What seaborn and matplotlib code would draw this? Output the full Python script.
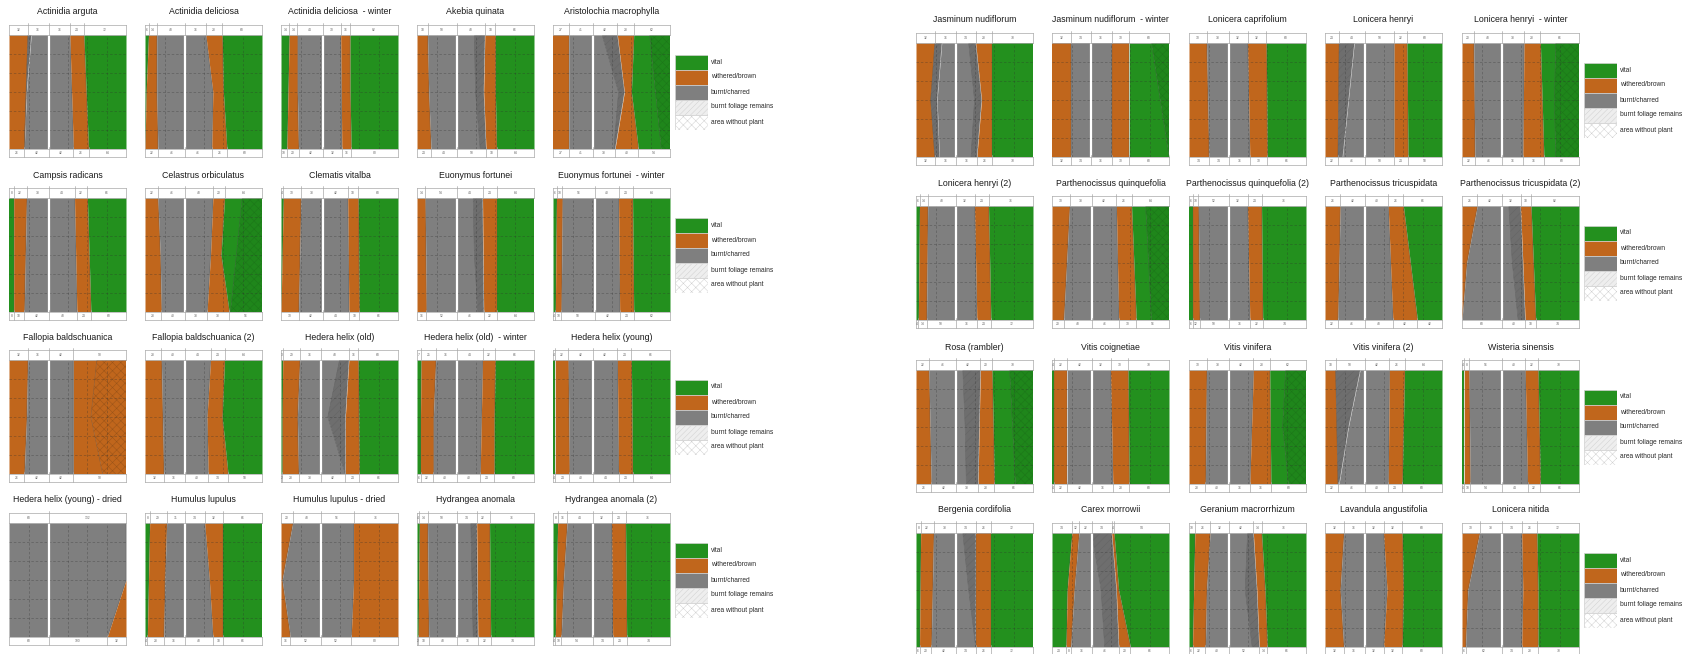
import numpy as np
import pandas as pd
import matplotlib
matplotlib.use("Agg")
import matplotlib.pyplot as plt
import seaborn as sns
from matplotlib.patches import Rectangle

sns.set_theme(style="white")
plt.rcParams["font.family"] = ["Liberation Sans", "DejaVu Sans"]
plt.rcParams["hatch.linewidth"] = 0.35

# ---------------------------------------------------------------- data
# Each panel: zone sequence from left to right (V vital, E dense vital,
# O withered/brown, H withered without plant, G burnt/charred, D heavily
# charred), the x-position (0-200 cm) of every zone boundary at the top,
# middle and bottom of the wall section, and the white separation line.
TITLES = [
    "Actinidia arguta", "Actinidia deliciosa", "Actinidia deliciosa  - winter",
    "Akebia quinata", "Aristolochia macrophylla",
    "Campsis radicans", "Celastrus orbiculatus", "Clematis vitalba",
    "Euonymus fortunei", "Euonymus fortunei  - winter",
    "Fallopia baldschuanica", "Fallopia baldschuanica (2)", "Hedera helix (old)",
    "Hedera helix (old)  - winter", "Hedera helix (young)",
    "Hedera helix (young) - dried", "Humulus lupulus", "Humulus lupulus - dried",
    "Hydrangea anomala", "Hydrangea anomala (2)",
    "Jasminum nudiflorum", "Jasminum nudiflorum  - winter", "Lonicera caprifolium",
    "Lonicera henryi", "Lonicera henryi  - winter",
    "Lonicera henryi (2)", "Parthenocissus quinquefolia",
    "Parthenocissus quinquefolia (2)", "Parthenocissus tricuspidata",
    "Parthenocissus tricuspidata (2)",
    "Rosa (rambler)", "Vitis coignetiae", "Vitis vinifera", "Vitis vinifera (2)",
    "Wisteria sinensis",
    "Bergenia cordifolia", "Carex morrowii", "Geranium macrorrhizum",
    "Lavandula angustifolia", "Lonicera nitida",
]

ZONES = [
    "ODGOV", "VOGOV", "VOGOV", "OGDOV", "OGDOVE",
    "VOGOV", "OGOVE", "VOGOV", "OGDOV", "VOGOV",
    "OGOH", "OGOV", "VOGDOV", "VOGOV", "VOGOV",
    "GO", "VOGOV", "OGO", "VOGDOV", "VOGOV",
    "ODGDOV", "OGOVE", "OGOV", "ODGOV", "OGOVE",
    "VOGOV", "OGOVE", "VOGOV", "OGOV", "OGDOV",
    "OGDOVE", "VOGOV", "OGOVE", "ODGOV", "VOGOV",
    "VOGDOV", "VOGDOV", "VOGDOV", "OGOV", "OGOV",
]

EDGES_TOP = [
    [32, 38, 104, 128], [6, 20, 104, 132], [14, 28, 102, 118], [18, 98, 116, 134],
    [27, 84, 110, 138, 165],
    [8, 30, 112, 134], [22, 116, 136, 166], [4, 34, 114, 132], [14, 96, 112, 136],
    [6, 16, 112, 136],
    [32, 110, 150], [28, 112, 136], [3, 32, 100, 116, 132], [7, 32, 112, 134],
    [4, 26, 110, 134],
    [200], [8, 37, 102, 134], [20, 124], [4, 18, 92, 102, 124], [8, 24, 100, 124],
    [32, 44, 90, 102, 130], [32, 102, 132, 170], [30, 100, 132], [24, 50, 118, 140],
    [20, 106, 134, 160],
    [6, 20, 100, 124], [30, 110, 136, 160], [6, 16, 100, 124], [26, 108, 134],
    [26, 80, 100, 118],
    [22, 80, 110, 130, 160], [4, 26, 100, 130], [30, 110, 138, 165], [18, 60, 110, 136],
    [4, 12, 108, 130],
    [8, 30, 80, 102, 128], [34, 46, 68, 102, 106], [10, 36, 100, 110, 124],
    [32, 100, 132], [30, 102, 128],
]

EDGES_MID = [
    [29, 30, 107, 132], [2, 20, 116, 134], [12, 28, 103, 118], [20, 100, 114, 134],
    [27, 112, 122, 134, 175],
    [8, 28, 114, 137], [26, 112, 130, 156], [2, 32, 115, 133], [15, 98, 113, 136],
    [5, 15, 113, 137],
    [30, 110, 140], [30, 106, 132], [2, 28, 80, 110, 133], [6, 28, 110, 132],
    [4, 27, 111, 135],
    [200], [6, 34, 110, 134], [2, 124], [3, 19, 94, 103, 125], [6, 18, 101, 125],
    [25, 36, 100, 112, 130], [32, 102, 132, 185], [32, 102, 133], [23, 40, 118, 141],
    [21, 105, 137, 158],
    [5, 19, 102, 126], [25, 112, 140, 165], [6, 17, 102, 125], [24, 112, 146],
    [8, 86, 104, 122],
    [24, 84, 108, 132, 165], [4, 26, 102, 131], [29, 107, 139, 160], [20, 40, 109, 134],
    [4, 13, 110, 132],
    [7, 28, 90, 102, 128], [26, 38, 84, 110, 114], [8, 30, 96, 116, 130],
    [26, 106, 134], [10, 104, 130],
]

EDGES_BOT = [
    [26, 26, 110, 136], [0, 22, 114, 140], [10, 30, 104, 120], [24, 108, 118, 136],
    [27, 104, 106, 146, 185],
    [8, 26, 116, 140], [28, 106, 144, 146], [0, 30, 116, 134], [16, 104, 114, 136],
    [4, 14, 114, 138],
    [26, 110, 160], [32, 108, 142], [2, 30, 110, 110, 134], [6, 28, 108, 132],
    [4, 28, 112, 136],
    [168], [4, 32, 116, 134], [16, 120], [2, 20, 96, 104, 126], [4, 14, 102, 126],
    [32, 40, 94, 104, 130], [32, 102, 132, 200], [34, 104, 134], [22, 30, 118, 142],
    [22, 104, 140, 160],
    [4, 18, 104, 128], [20, 114, 144, 170], [6, 18, 104, 126], [22, 116, 158],
    [0, 96, 108, 126],
    [26, 86, 106, 134, 170], [4, 26, 104, 132], [28, 104, 140, 170], [22, 24, 108, 132],
    [4, 14, 112, 134],
    [6, 26, 102, 102, 128], [24, 32, 90, 114, 134], [6, 28, 108, 120, 134],
    [32, 100, 132], [6, 102, 130],
]

DIVIDERS = [
    68, 68, 72, 68, 68, 68, 68, 72, 68, 72,
    68, 68, 68, 68, 68, 68, 68, 68, 68, 68,
    68, 66, 68, 68, 68, 68, 68, 68, 68, 68,
    68, 68, 68, 68, 68, 68, 68, 68, 68, 68,
]

LEGEND_LABELS = ["vital", "withered/brown", "burnt/charred",
                 "burnt foliage remains", "area without plant"]

# ---------------------------------------------------------------- styling
COLORS = {"V": "#23901e", "E": "#1f861b", "O": "#c0661c", "H": "#c0661c",
          "G": "#7f7f7f", "D": "#6e6e6e"}
HATCH = {"E": ("xxxx", "#1c7619"), "H": ("xxxx", "#9a5418"),
         "D": ("////", "#656565")}
CLASS = {"V": "V", "E": "V", "O": "O", "H": "O", "G": "G", "D": "G"}
FRAME = "#a8a8a8"
W, H = 1696, 654
WALL = 200.0
LEVELS = np.array([0.0, 100.0, 200.0])      # bottom, middle, top

LEFT_COLS = [9, 145, 281, 417, 553]
RIGHT_COLS = [916, 1052, 1189, 1325, 1462]
LEFT_ROWS = [35, 198, 360, 523]
RIGHT_ROWS = [43, 206, 370, 533]
PW, PH = 117, 114

fig = plt.figure(figsize=(W / 100, H / 100), dpi=100)


def px_axes(x, y, w, h):
    return fig.add_axes([x / W, 1 - (y + h) / H, w / W, h / H])


def strip(x, y, w, h, cuts):
    ax = px_axes(x, y, w, h)
    ax.set_xlim(0, WALL)
    ax.set_ylim(0, 1)
    ax.set_xticks([])
    ax.set_yticks([])
    for s in ax.spines.values():
        s.set_color(FRAME)
        s.set_linewidth(0.5)
    bounds = [0.0] + cuts + [WALL]
    for c in cuts:
        ax.plot([c, c], [0, 1.25], color=FRAME, lw=0.5, clip_on=False)
    for a, b in zip(bounds[:-1], bounds[1:]):
        ax.text((a + b) / 2, 0.5, f"{round(b - a)}", fontsize=2.4,
                color="#6a6a6a", ha="center", va="center")


def panel(i, x, y):
    ax = px_axes(x, y, PW, PH)
    ax.set_xlim(0, WALL)
    ax.set_ylim(0, WALL)
    ax.set_xticks([])
    ax.set_yticks([])
    for s in ax.spines.values():
        s.set_visible(False)

    zones = ZONES[i]
    edges = [np.array([b, m, t], float) for t, m, b in
             zip(EDGES_TOP[i], EDGES_MID[i], EDGES_BOT[i])]
    left = np.zeros(3)
    for k, z in enumerate(zones):
        right = edges[k] if k < len(edges) else np.full(3, WALL)
        if z in HATCH:
            hatch, ec = HATCH[z]
            ax.fill_betweenx(LEVELS, left, right, facecolor=COLORS[z],
                             edgecolor=ec, hatch=hatch, lw=0)
        else:
            ax.fill_betweenx(LEVELS, left, right, color=COLORS[z], lw=0)
        left = right

    # zone boundaries
    main = [k for k in range(len(edges))
            if CLASS[zones[k]] != CLASS[zones[k + 1]]]
    inner = [edges[k] for k in range(len(edges)) if edges[k].min() < WALL - 0.5]
    if inner:
        df = pd.DataFrame({
            "x": np.concatenate(inner),
            "y": np.tile(LEVELS, len(inner)),
            "b": np.repeat(np.arange(len(inner)), 3),
        })
        sns.lineplot(data=df, x="x", y="y", units="b", estimator=None,
                     orient="y", sort=False, color="#555555", lw=0.35,
                     alpha=0.5, legend=False, ax=ax)
    ax.set_xlabel("")
    ax.set_ylabel("")

    # dashed measuring grid
    for g in np.arange(1, 6) * WALL / 6:
        ax.axhline(g, color="#2e2e2e", lw=0.45, ls=(0, (4, 3)), alpha=0.45)
        ax.axvline(g, color="#2e2e2e", lw=0.45, ls=(0, (4, 3)), alpha=0.45)

    ax.axvline(DIVIDERS[i], color="white", lw=1.6)

    # measurement strips above and below
    def cuts(vals):
        c = [vals[k] for k in main if 0.5 < vals[k] < WALL - 0.5]
        return sorted(set(c + [DIVIDERS[i]]))

    strip(x, y - 10, PW, 10, cuts(EDGES_TOP[i]))
    strip(x, y + PH, PW, 8, cuts(EDGES_BOT[i]))

    fig.text((x + PW / 2) / W, 1 - (y - 23) / H, TITLES[i],
             fontsize=6.3, ha="center", va="center", color="#1a1a1a")


def legend(x, yc):
    h = 75
    ax = px_axes(x, yc - h / 2, 33, h)
    ax.set_xlim(0, 1)
    ax.set_ylim(0, 5)
    ax.axis("off")
    styles = [
        dict(facecolor=COLORS["V"]),
        dict(facecolor=COLORS["O"]),
        dict(facecolor=COLORS["G"]),
        dict(facecolor="#eeeeee", hatch="//////"),
        dict(facecolor="white", hatch="xxxx"),
    ]
    for k, (lab, st) in enumerate(zip(LEGEND_LABELS, styles)):
        yy = 4 - k
        ax.add_patch(Rectangle((0, yy), 1, 1, edgecolor="#d0d0d0", lw=0.5, **st))
        ax.text(1.09, yy + 0.5, lab, fontsize=4.8, va="center", ha="left",
                color="#2a2a2a", clip_on=False)


for r in range(4):
    for c in range(5):
        panel(r * 5 + c, LEFT_COLS[c], LEFT_ROWS[r])
        panel(20 + r * 5 + c, RIGHT_COLS[c], RIGHT_ROWS[r])
    legend(675, LEFT_ROWS[r] + PH / 2)
    legend(1584, RIGHT_ROWS[r] + PH / 2)

fig.savefig("out.png", dpi=100, facecolor="white")
